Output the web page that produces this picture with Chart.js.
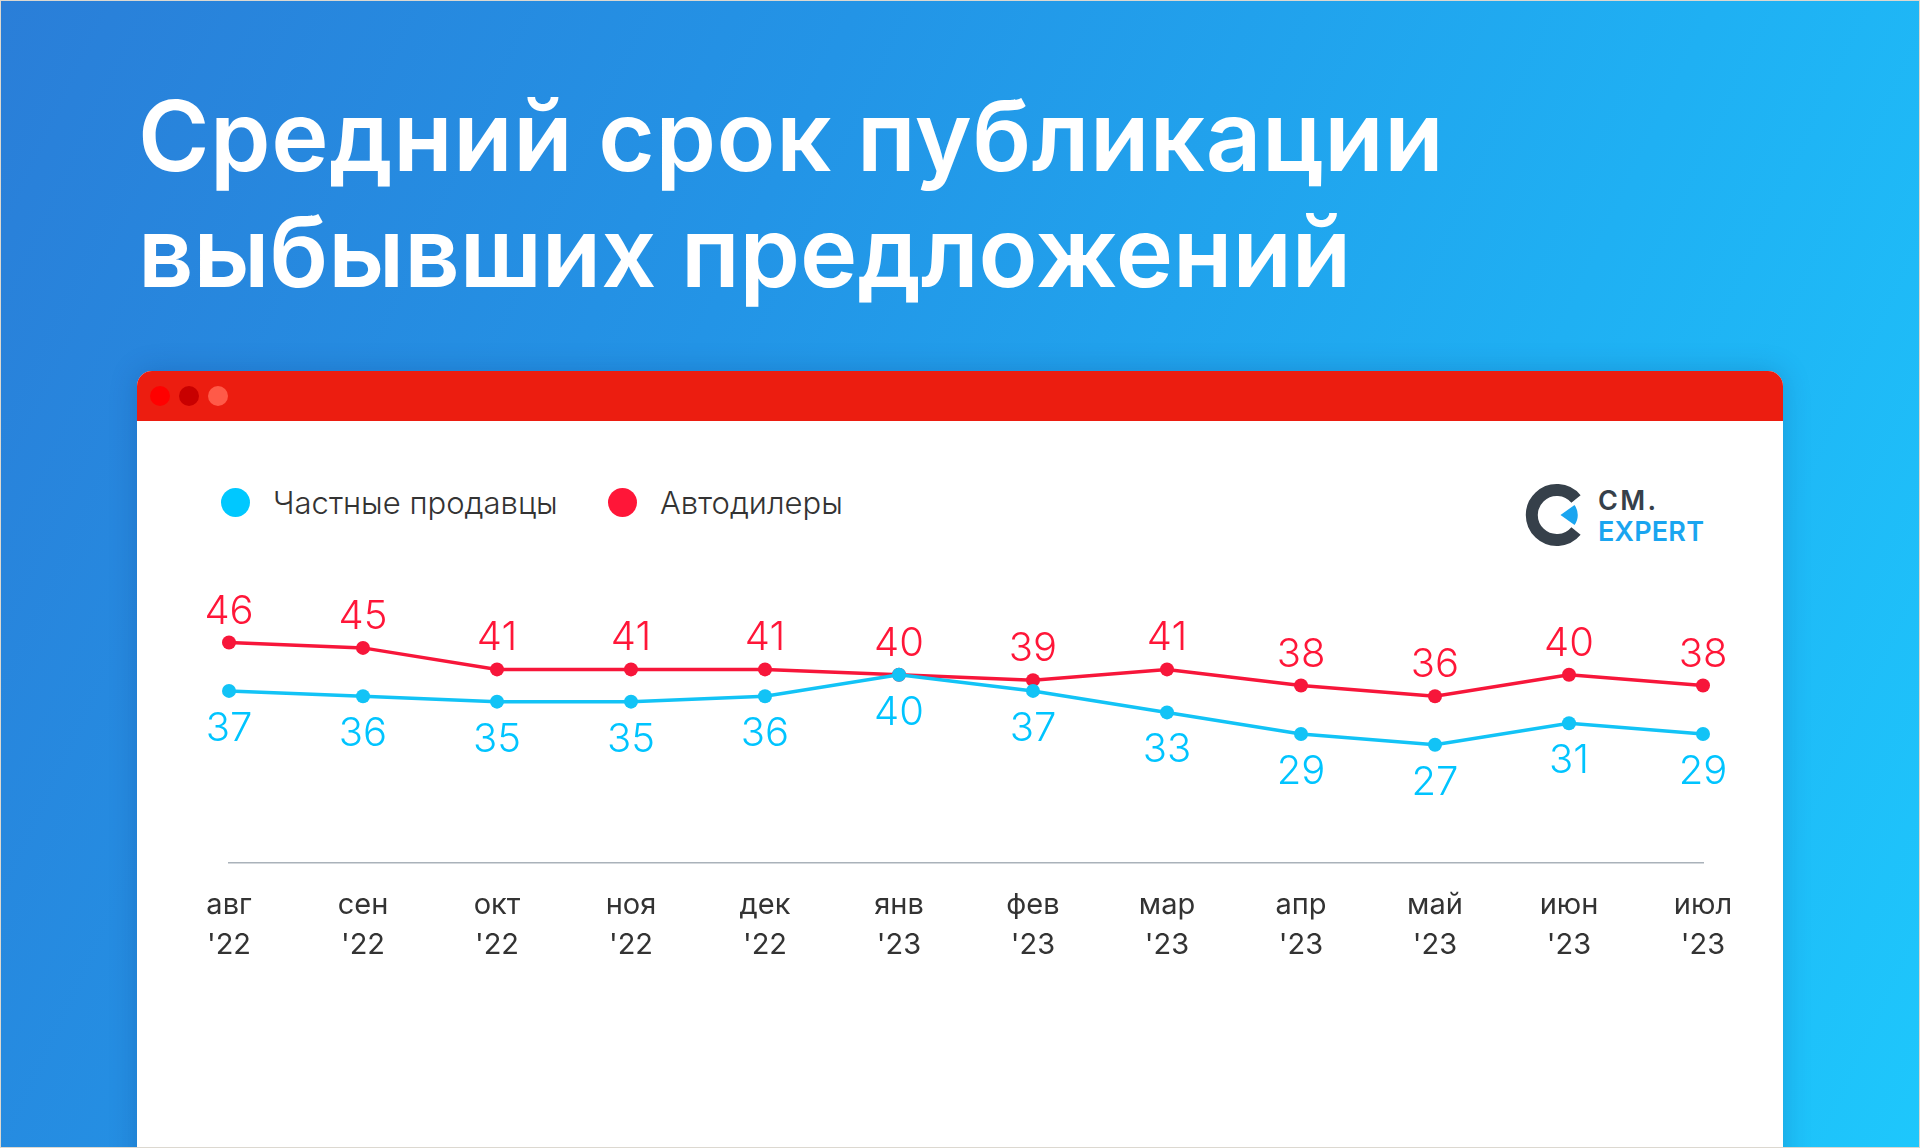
<!DOCTYPE html>
<html lang="ru">
<head>
<meta charset="utf-8">
<script src="https://cdn.jsdelivr.net/npm/chart.js@4.4.1/dist/chart.umd.min.js"></script>
<style>
  html, body { margin: 0; padding: 0; }
  body {
    width: 1920px; height: 1148px; overflow: hidden; position: relative;
    background: linear-gradient(115deg, #2a7ed8 0%, #2394e6 35%, #1fb0f3 70%, #1ec7fc 100%);
    font-family: Inter, 'Noto Sans', sans-serif;
  }
  .title { position: absolute; left: 138px; color: #fff; font-weight: 600; font-size: 97px; line-height: 116px; white-space: nowrap; }
  .window {
    position: absolute; left: 137px; top: 371px; width: 1646px; height: 820px;
    background: #fff; border-radius: 15px 15px 0 0; overflow: hidden;
    box-shadow: 0 0 28px rgba(0, 40, 110, 0.22);
  }
  .bar { position: absolute; left: 0; top: 0; width: 100%; height: 50px; background: #ec1d10; }
  .dot { position: absolute; top: 15px; width: 20px; height: 20px; border-radius: 50%; }
  .legend-item { position: absolute; top: 484px; height: 36px; display: flex; align-items: center; font-size: 31px; font-weight: 300; color: #333; }
  .legend-item i { display: inline-block; width: 29px; height: 29px; border-radius: 50%; margin-right: 23px; }
  .logo { position: absolute; left: 1521px; top: 480px; }
  .chart-box { position: absolute; left: 137px; top: 421px; width: 1646px; height: 620px; }
  .frame { position: absolute; inset: 0; border: 1px solid #dcd8d0; pointer-events: none; }
</style>
</head>
<body>
<div class="title" style="top:78px;letter-spacing:0.6px">Средний срок публикации</div>
<div class="title" style="top:194px">выбывших предложений</div>

<div class="window">
  <div class="bar">
    <div class="dot" style="left:13px;background:#ff0000"></div>
    <div class="dot" style="left:42px;background:#c80000"></div>
    <div class="dot" style="left:71px;background:#ff5a48"></div>
  </div>
</div>

<div id="legend"></div>

<svg class="logo" width="200" height="80" viewBox="0 0 200 80">
  <path d="M55 51 A25 25 0 1 1 55 19" fill="none" stroke="#36404a" stroke-width="12"/>
  <path d="M39.5 35 L53.5 25 A17 17 0 0 1 53.5 45 Z" fill="#1aa5f0"/>
  <text x="77" y="30" font-family="Inter" font-weight="600" font-size="27" fill="#36404a" textLength="58" lengthAdjust="spacing">CM.</text>
  <text x="77" y="61" font-family="Inter" font-weight="600" font-size="27" fill="#1aa5f0" textLength="106" lengthAdjust="spacing">EXPERT</text>
</svg>

<div class="chart-box"><canvas id="chart"></canvas></div>
<div class="frame"></div>

<script>
const MONTHS = ['авг', 'сен', 'окт', 'ноя', 'дек', 'янв', 'фев', 'мар', 'апр', 'май', 'июн', 'июл']
const YEARS = ["'22", "'22", "'22", "'22", "'22", "'23", "'23", "'23", "'23", "'23", "'23", "'23"]
const PRIVATE_SELLERS = [37, 36, 35, 35, 36, 40, 37, 33, 29, 27, 31, 29]
const DEALERS = [46, 45, 41, 41, 41, 40, 39, 41, 38, 36, 40, 38]
const SERIES_NAMES = ['Частные продавцы', 'Автодилеры']

const COLORS = {
  blue: '#12c3f6',
  blueText: '#00c4ff',
  red: '#f7163a',
  redText: '#ff1638',
  legendBlue: '#00c8ff',
  legendRed: '#ff1638',
  axis: '#aab2ba',
  text: '#333333',
}

// legend drawn as html, left-aligned like the original
const legend = document.getElementById('legend')
;[[SERIES_NAMES[0], COLORS.legendBlue, 221], [SERIES_NAMES[1], COLORS.legendRed, 608]].forEach(([name, color, left]) => {
  const el = document.createElement('div')
  el.className = 'legend-item'
  el.style.left = left + 'px'
  el.innerHTML = `<i style="background:${color}"></i>${name}`
  legend.appendChild(el)
})

const valueLabels = {
  id: 'valueLabels',
  afterDatasetsDraw(chart) {
    const { ctx } = chart
    chart.data.datasets.forEach((ds, i) => {
      const meta = chart.getDatasetMeta(i)
      ctx.save()
      ctx.font = '300 40px Inter'
      ctx.fillStyle = ds.labelColor
      ctx.textAlign = 'center'
      ctx.textBaseline = 'middle'
      meta.data.forEach((pt, j) => {
        ctx.fillText(String(ds.data[j]), pt.x, pt.y + ds.labelOffset)
      })
      ctx.restore()
    })
  },
}

new Chart(document.getElementById('chart'), {
  type: 'line',
  data: {
    labels: MONTHS.map((m, i) => [m, YEARS[i]]),
    datasets: [
      {
        label: SERIES_NAMES[0],
        data: PRIVATE_SELLERS,
        borderColor: COLORS.blue,
        backgroundColor: COLORS.blue,
        pointBackgroundColor: COLORS.blue,
        pointBorderWidth: 0,
        pointRadius: 7,
        borderWidth: 3.5,
        tension: 0,
        labelColor: COLORS.blueText,
        labelOffset: 38,
      },
      {
        label: SERIES_NAMES[1],
        data: DEALERS,
        borderColor: COLORS.red,
        backgroundColor: COLORS.red,
        pointBackgroundColor: COLORS.red,
        pointBorderWidth: 0,
        pointRadius: 7,
        borderWidth: 3.5,
        tension: 0,
        labelColor: COLORS.redText,
        labelOffset: -31,
      },
    ],
  },
  plugins: [valueLabels],
  options: {
    responsive: true,
    maintainAspectRatio: false,
    animation: false,
    layout: { padding: { left: 92, right: 80, top: 200, bottom: 0 } },
    plugins: {
      legend: { display: false },
      tooltip: { enabled: false },
    },
    scales: {
      x: {
        grid: { display: false, drawTicks: false },
        border: { display: true, color: COLORS.axis, width: 1.5 },
        ticks: {
          color: COLORS.text,
          font: { family: 'Inter', size: 29, lineHeight: 1.38 },
          padding: 22,
          maxRotation: 0,
          autoSkip: false,
        },
        afterFit: s => { s.height = 178 },
      },
      y: { display: false, min: 5, max: 50 },
    },
  },
})
</script>
</body>
</html>
